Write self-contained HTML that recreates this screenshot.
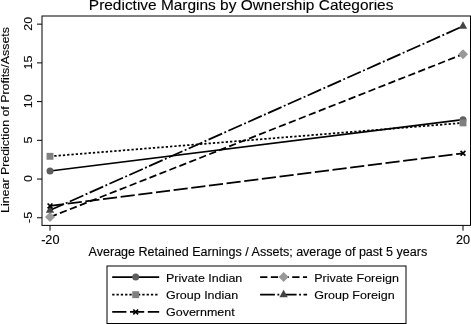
<!DOCTYPE html>
<html><head><meta charset="utf-8"><title>Predictive Margins by Ownership Categories</title>
<style>html,body{margin:0;padding:0;background:#fff}svg{display:block}</style></head>
<body>
<svg width="471" height="324" viewBox="0 0 471 324" font-family="'Liberation Sans', Arial, Helvetica, sans-serif" fill="#000">
<rect width="471" height="324" fill="#fff"/>
<text transform="translate(241.1 10.25) scale(1.0582 1)" font-size="14.60" text-anchor="middle" stroke="#000" stroke-width="0.12">Predictive Margins by Ownership Categories</text>
<rect x="42.0" y="16.0" width="428.5" height="209.4" fill="none" stroke="#000" stroke-width="1"/>
<line x1="37" x2="42.0" y1="24.15" y2="24.15" stroke="#000" stroke-width="1"/>
<text transform="translate(31.9 23.75) rotate(-90) scale(1.0582 1)" font-size="11.81" text-anchor="middle" stroke="#000" stroke-width="0.12">20</text>
<line x1="37" x2="42.0" y1="62.88" y2="62.88" stroke="#000" stroke-width="1"/>
<text transform="translate(31.9 62.48) rotate(-90) scale(1.0582 1)" font-size="11.81" text-anchor="middle" stroke="#000" stroke-width="0.12">15</text>
<line x1="37" x2="42.0" y1="101.60" y2="101.60" stroke="#000" stroke-width="1"/>
<text transform="translate(31.9 101.2) rotate(-90) scale(1.0582 1)" font-size="11.81" text-anchor="middle" stroke="#000" stroke-width="0.12">10</text>
<line x1="37" x2="42.0" y1="140.33" y2="140.33" stroke="#000" stroke-width="1"/>
<text transform="translate(31.9 139.93) rotate(-90) scale(1.0582 1)" font-size="11.81" text-anchor="middle" stroke="#000" stroke-width="0.12">5</text>
<line x1="37" x2="42.0" y1="179.05" y2="179.05" stroke="#000" stroke-width="1"/>
<text transform="translate(31.9 178.65) rotate(-90) scale(1.0582 1)" font-size="11.81" text-anchor="middle" stroke="#000" stroke-width="0.12">0</text>
<line x1="37" x2="42.0" y1="217.78" y2="217.78" stroke="#000" stroke-width="1"/>
<text transform="translate(31.9 217.38) rotate(-90) scale(1.0582 1)" font-size="11.81" text-anchor="middle" stroke="#000" stroke-width="0.12">-5</text>
<line x1="50.0" x2="50.0" y1="225.4" y2="230.7" stroke="#000" stroke-width="1"/>
<line x1="463.0" x2="463.0" y1="225.4" y2="230.7" stroke="#000" stroke-width="1"/>
<text transform="translate(50.3 244.2) scale(1.0582 1)" font-size="12.00" text-anchor="middle" stroke="#000" stroke-width="0.12">-20</text>
<text transform="translate(463.0 244.2) scale(1.0582 1)" font-size="12.00" text-anchor="middle" stroke="#000" stroke-width="0.12">20</text>
<text transform="translate(257.9 256.3) scale(1.0582 1)" font-size="11.86" text-anchor="middle" stroke="#000" stroke-width="0.12">Average Retained Earnings / Assets; average of past 5 years</text>
<text transform="translate(9.3 120) rotate(-90) scale(1.0582 1)" font-size="11.72" text-anchor="middle" stroke="#000" stroke-width="0.12">Linear Prediction of Profits/Assets</text>
<line x1="50.0" y1="171.0" x2="463.0" y2="119.7" stroke="#000" stroke-width="1.75"/>
<circle cx="50.0" cy="171.0" r="3.5" fill="#5e5e5e"/>
<circle cx="463.0" cy="119.7" r="3.5" fill="#5e5e5e"/>
<line x1="50.0" y1="217.1" x2="463.0" y2="54.2" stroke="#000" stroke-width="1.75" stroke-dasharray="7.3 3.4"/>
<path d="M45.0 217.1L50.0 212.1L55.0 217.1L50.0 222.1Z" fill="#999"/>
<path d="M458.0 54.2L463.0 49.2L468.0 54.2L463.0 59.2Z" fill="#999"/>
<line x1="50.0" y1="156.3" x2="463.0" y2="122.9" stroke="#000" stroke-width="1.75" stroke-dasharray="2.3 2.0"/>
<rect x="46.55" y="152.85000000000002" width="6.9" height="6.9" fill="#808080"/>
<rect x="459.55" y="119.45" width="6.9" height="6.9" fill="#808080"/>
<line x1="50.0" y1="210.3" x2="463.0" y2="26.2" stroke="#000" stroke-width="1.75" stroke-dasharray="14.8 2.5 1.9 2.5"/>
<path d="M45.8 212.73L54.2 212.73L50.0 205.43Z" fill="#444"/>
<path d="M458.8 28.63L467.2 28.63L463.0 21.33Z" fill="#444"/>
<line x1="50.0" y1="205.9" x2="463.0" y2="153.3" stroke="#000" stroke-width="1.75" stroke-dasharray="14.2 3.6"/>
<path d="M47.6 203.5L52.4 208.3M47.6 208.3L52.4 203.5" stroke="#000" stroke-width="1.7" fill="none"/>
<path d="M460.6 150.9L465.4 155.70000000000002M460.6 155.70000000000002L465.4 150.9" stroke="#000" stroke-width="1.7" fill="none"/>
<rect x="107" y="266" width="299" height="57.5" fill="#fff" stroke="#000" stroke-width="1"/>
<line x1="112.2" y1="277.1" x2="159.2" y2="277.1" stroke="#000" stroke-width="1.75"/>
<circle cx="135.7" cy="277.1" r="3.5" fill="#5e5e5e"/>
<text transform="translate(166.0 281.6) scale(1.0582 1)" font-size="11.81" text-anchor="start" stroke="#000" stroke-width="0.12">Private Indian</text>
<line x1="112.2" y1="294.7" x2="159.2" y2="294.7" stroke="#000" stroke-width="1.75" stroke-dasharray="2.3 2.0"/>
<rect x="132.25" y="291.25" width="6.9" height="6.9" fill="#808080"/>
<text transform="translate(166.0 299.2) scale(1.0582 1)" font-size="11.81" text-anchor="start" stroke="#000" stroke-width="0.12">Group Indian</text>
<line x1="112.2" y1="311.9" x2="159.2" y2="311.9" stroke="#000" stroke-width="1.75" stroke-dasharray="14.2 3.6"/>
<path d="M133.29999999999998 309.5L138.1 314.29999999999995M133.29999999999998 314.29999999999995L138.1 309.5" stroke="#000" stroke-width="1.7" fill="none"/>
<text transform="translate(166.0 316.4) scale(1.0582 1)" font-size="11.81" text-anchor="start" stroke="#000" stroke-width="0.12">Government</text>
<line x1="260.1" y1="277.1" x2="307.1" y2="277.1" stroke="#000" stroke-width="1.75" stroke-dasharray="7.3 3.4"/>
<path d="M278.6 277.1L283.6 272.1L288.6 277.1L283.6 282.1Z" fill="#999"/>
<text transform="translate(314.2 281.6) scale(1.0582 1)" font-size="11.81" text-anchor="start" stroke="#000" stroke-width="0.12">Private Foreign</text>
<line x1="260.1" y1="294.7" x2="307.1" y2="294.7" stroke="#000" stroke-width="1.75" stroke-dasharray="14.8 2.5 1.9 2.5"/>
<path d="M279.40000000000003 297.13L287.8 297.13L283.6 289.83Z" fill="#444"/>
<text transform="translate(314.2 299.2) scale(1.0582 1)" font-size="11.81" text-anchor="start" stroke="#000" stroke-width="0.12">Group Foreign</text>
</svg>
</body></html>
